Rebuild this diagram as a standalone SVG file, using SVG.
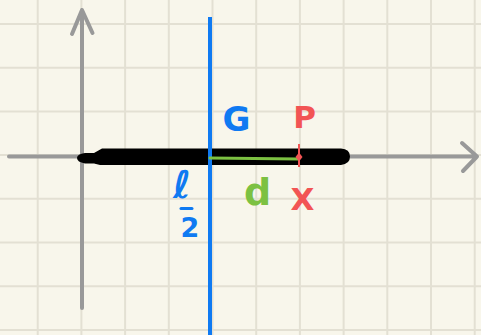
<svg xmlns="http://www.w3.org/2000/svg" width="481" height="335" viewBox="0 0 481 335">
<defs>
<style>
.grid{stroke:#e3e0d3;stroke-width:2;fill:none}
.axis{stroke:#999999;stroke-width:4;fill:none;stroke-linecap:round;stroke-linejoin:round}
.lbl{font-family:"DejaVu Sans",sans-serif;font-weight:bold}
.blue{fill:#0f7af2}
.red{fill:#f25454}
.green{fill:#7cc142}
</style>
</defs>
<rect width="481" height="335" fill="#f8f6eb"/>
<g id="grid" class="grid">
<path d="M37.7 0V335M81.4 0V335M125.1 0V335M168.8 0V335M212.5 0V335M256.2 0V335M299.9 0V335M343.6 0V335M387.3 0V335M431 0V335M474.7 0V335"/>
<path d="M0 24H481M0 67.7H481M0 111.4H481M0 155.1H481M0 198.8H481M0 242.5H481M0 286.2H481M0 329.9H481"/>
</g>
<g id="axes">
<path class="axis" d="M82 308V10M72 34L82 10L92.5 33"/>
<path class="axis" d="M9 156.5H477M462 143L477 156.5L463 171"/>
</g>
<g id="rod">
<path d="M102 148.5H341Q350 149 350 156.5Q350 164 341 165H100L94 163.5H85Q77 162 77 158Q77 154 85 153H94Z" fill="#000"/>
</g>
<g id="connectors">
<path d="M210 17V335" stroke="#0f7af2" stroke-width="4" fill="none"/>
<path d="M210 158L298 159" stroke="#7cc142" stroke-width="3" fill="none" stroke-linecap="round"/>
<path d="M299 144V167" stroke="#f25454" stroke-width="2" fill="none"/>
<path d="M299 152.5L302.5 157L299 161.5L295.5 157Z" fill="#f25454"/>
</g>
<g id="label-G"><text class="lbl blue" x="236.5" y="131" font-size="34" text-anchor="middle">G</text></g>
<g id="label-P"><text class="lbl red" x="304.5" y="128" font-size="31" text-anchor="middle">P</text></g>
<g id="label-d"><text class="lbl green" x="257.5" y="205" font-size="38" text-anchor="middle">d</text></g>
<g id="label-X"><text class="lbl red" x="302.5" y="210" font-size="31" text-anchor="middle">X</text></g>
<g id="label-l2">
<text class="lbl blue" x="182" y="198" font-size="38" text-anchor="middle">ℓ</text>
<path d="M181 208.5H192" stroke="#0f7af2" stroke-width="3" stroke-linecap="round"/>
<text class="lbl blue" x="190" y="237" font-size="27" text-anchor="middle">2</text>
</g>
</svg>
